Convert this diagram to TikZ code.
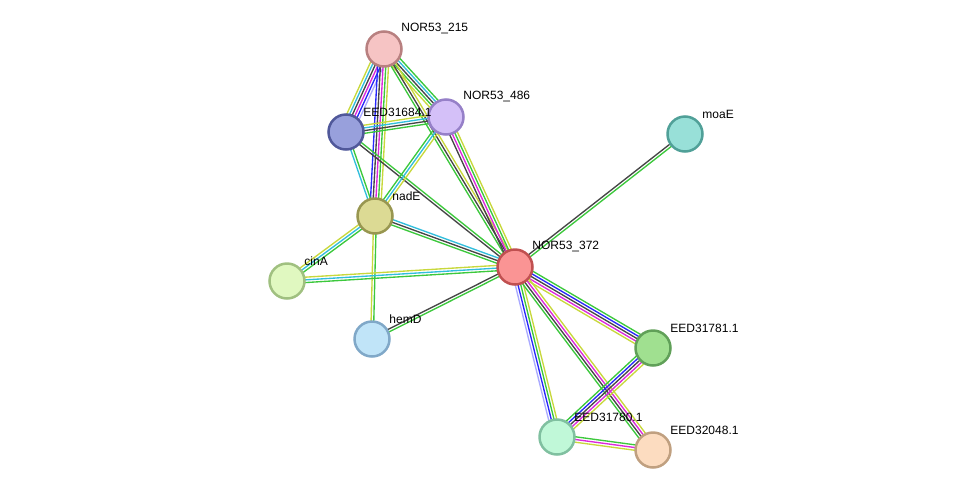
\documentclass[tikz,border=0pt]{standalone}
\usepackage{fontspec}
\setmainfont{Liberation Sans}
\usetikzlibrary{calc,backgrounds}

\definecolor{cgreen}{RGB}{60,200,60}
\definecolor{ctext}{RGB}{200,216,60}
\definecolor{cblack}{RGB}{70,70,70}
\definecolor{cmag}{RGB}{220,40,220}
\definecolor{cblue}{RGB}{40,40,250}
\definecolor{ccyan}{RGB}{50,190,220}
\definecolor{chomol}{RGB}{170,170,255}

% one line per evidence channel, side by side
\newcommand\strlink[3]{%
  \foreach \c [count=\n] in {#3}{\xdef\nlinks{\n}}%
  \foreach \c [count=\i] in {#3}{%
    \pgfmathsetmacro\off{(\i-(\nlinks+1)/2)*2.7}%
    \draw[link, \c] ($(#1)!\off pt!90:(#2)$) -- ($(#2)!\off pt!-90:(#1)$);}}

\begin{document}
\begin{tikzpicture}[x=1pt, y=-1pt,
            prot/.style={circle, draw, line width=2.5pt, minimum size=35pt, inner sep=0pt},
            lbl/.style={font=\fontsize{12pt}{14pt}\selectfont, inner sep=1pt, xshift=3pt, yshift=0.5pt},
            link/.style={line width=1.35pt}]
  \useasboundingbox (0,0) rectangle (976,496);
  \node[prot, fill={rgb,255:red,246;green,196;blue,196}, draw={rgb,255:red,184;green,128;blue,128},
        label={[lbl]north east:NOR53\_215}] (n215) at (384,49) {};
  \node[prot, fill={rgb,255:red,212;green,192;blue,248}, draw={rgb,255:red,150;green,128;blue,200},
        label={[lbl]north east:NOR53\_486}] (n486) at (446,117) {};
  \node[prot, fill={rgb,255:red,152;green,160;blue,220}, draw={rgb,255:red,80;green,88;blue,154},
        label={[lbl]north east:EED31684.1}] (e684) at (346,132) {};
  \node[prot, fill={rgb,255:red,152;green,224;blue,216}, draw={rgb,255:red,80;green,160;blue,152},
        label={[lbl]north east:moaE}] (moaE) at (685,134) {};
  \node[prot, fill={rgb,255:red,220;green,218;blue,148}, draw={rgb,255:red,152;green,150;blue,80},
        label={[lbl]north east:nadE}] (nadE) at (375,216) {};
  \node[prot, fill={rgb,255:red,250;green,148;blue,148}, draw={rgb,255:red,192;green,80;blue,80},
        label={[lbl]north east:NOR53\_372}] (n372) at (515,267) {};
  \node[prot, fill={rgb,255:red,224;green,248;blue,192}, draw={rgb,255:red,160;green,192;blue,128},
        label={[lbl]north east:cinA}] (cinA) at (287,281) {};
  \node[prot, fill={rgb,255:red,192;green,228;blue,248}, draw={rgb,255:red,128;green,168;blue,200},
        label={[lbl]north east:hemD}] (hemD) at (372,339) {};
  \node[prot, fill={rgb,255:red,160;green,224;blue,144}, draw={rgb,255:red,96;green,160;blue,88},
        label={[lbl]north east:EED31781.1}] (e781) at (653,348) {};
  \node[prot, fill={rgb,255:red,192;green,248;blue,216}, draw={rgb,255:red,128;green,192;blue,160},
        label={[lbl]north east:EED31780.1}] (e780) at (557,437) {};
  \node[prot, fill={rgb,255:red,252;green,220;blue,192}, draw={rgb,255:red,192;green,160;blue,128},
        label={[lbl]north east:EED32048.1}] (e048) at (653,450) {};
  \begin{scope}[on background layer]
    \strlink{n215}{n486}{ctext,cgreen,cblack,ccyan,cgreen}
    \strlink{n215}{e684}{ctext,ccyan,cblack,cmag,cblue,chomol}
    \strlink{n215}{nadE}{cblue,cblack,cmag,cgreen,ctext}
    \strlink{n215}{n372}{cgreen,cblack,ctext}
    \strlink{e684}{n486}{cgreen,cblack,ccyan,ctext}
    \strlink{e684}{nadE}{ccyan,cgreen}
    \strlink{e684}{n372}{cblack,cgreen}
    \strlink{n486}{nadE}{cgreen,ccyan,ctext}
    \strlink{n486}{n372}{cblack,cmag,cgreen,ctext}
    \strlink{nadE}{n372}{cgreen,cblack,ccyan}
    \strlink{nadE}{cinA}{ctext,ccyan,cgreen}
    \strlink{nadE}{hemD}{ctext,cgreen}
    \strlink{cinA}{n372}{cgreen,ccyan,ctext}
    \strlink{hemD}{n372}{cgreen,cblack}
    \strlink{moaE}{n372}{cblack,cgreen}
    \strlink{n372}{e781}{ctext,cmag,cblack,cblue,cgreen}
    \strlink{n372}{e780}{chomol,cblue,cgreen,ctext}
    \strlink{n372}{e048}{cgreen,cblack,cmag,ctext}
    \strlink{e781}{e780}{cgreen,cblue,cblack,cmag,ctext}
    \strlink{e780}{e048}{ctext,cmag,cgreen}
  \end{scope}
\end{tikzpicture}
\end{document}
